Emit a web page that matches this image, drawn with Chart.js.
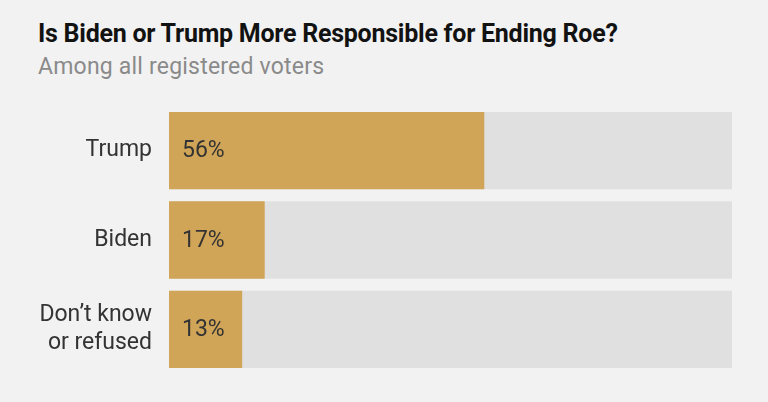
<!DOCTYPE html>
<html>
<head>
<meta charset="utf-8">
<script src="https://cdn.jsdelivr.net/npm/chart.js@4.4.0/dist/chart.umd.min.js"></script>
<style>
  html, body { margin: 0; padding: 0; background: #f2f2f2; }
  #wrap { position: relative; width: 768px; height: 402px; overflow: hidden; }
  #title {
    position: absolute; left: 38px; top: 19px;
    font: bold 25px "Roboto", sans-serif; color: #121212;
    letter-spacing: -0.25px; white-space: nowrap;
  }
  #subtitle {
    position: absolute; left: 38px; top: 53px;
    font: 23px "Roboto", sans-serif; color: #8a8a8a;
    letter-spacing: 0.2px; white-space: nowrap;
  }
  canvas { position: absolute; left: 0; top: 0; }
</style>
</head>
<body>
<div id="wrap">
  <div id="title">Is Biden or Trump More Responsible for Ending Roe?</div>
  <div id="subtitle">Among all registered voters</div>
  <canvas id="myChart" width="768" height="402"></canvas>
</div>
<script>
// données
const categories = ["Trump", "Biden", ["Don’t know", "or refused"]];
const shares = [56, 17, 13];
const fullScale = [100, 100, 100]; // fond gris des barres

// étiquettes % dans les barres
const valueLabels = {
  id: "valueLabels",
  afterDatasetsDraw(chart) {
    const ctx = chart.ctx;
    const meta = chart.getDatasetMeta(0);
    ctx.save();
    ctx.font = '23px "Roboto", sans-serif';
    ctx.fillStyle = "#333333";
    ctx.textAlign = "left";
    ctx.textBaseline = "middle";
    meta.data.forEach((bar, i) => {
      ctx.fillText(shares[i] + "%", bar.base + 13, bar.y + 1);
    });
    ctx.restore();
  }
};

const ctx = document.getElementById("myChart").getContext("2d");
const myChart = new Chart(ctx, {
  type: "bar",
  data: {
    labels: categories,
    datasets: [
      {
        data: shares,
        backgroundColor: "#d1a557",
        grouped: false,
        order: 0,
        categoryPercentage: 1,
        barPercentage: 0.865
      },
      {
        data: fullScale,
        backgroundColor: "#e0e0e0",
        grouped: false,
        order: 1,
        categoryPercentage: 1,
        barPercentage: 0.865
      }
    ]
  },
  options: {
    indexAxis: "y",
    responsive: false,
    animation: false,
    devicePixelRatio: 1,
    layout: { padding: { top: 106, bottom: 28, left: 0, right: 36 } },
    scales: {
      x: { min: 0, max: 100, display: false },
      y: {
        grid: { display: false, drawTicks: false },
        border: { display: false },
        afterFit(scale) {
          scale.width = 169;
          // sinon le label sur 2 lignes repousse le bas du graphique
          scale.paddingTop = 0;
          scale.paddingBottom = 0;
        },
        ticks: {
          padding: 17,
          color: "#333333",
          font: { family: "Roboto", size: 23, lineHeight: 1.22 }
        }
      }
    },
    plugins: {
      legend: { display: false },
      tooltip: { enabled: false }
    }
  },
  plugins: [valueLabels]
});
</script>
</body>
</html>
